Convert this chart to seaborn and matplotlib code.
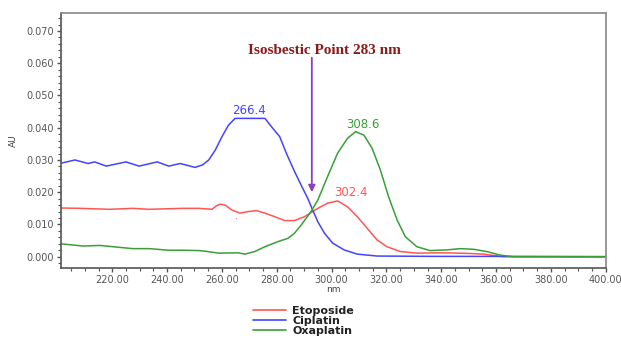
import matplotlib
matplotlib.use("Agg")
import matplotlib.pyplot as plt
import seaborn as sns
import pandas as pd
from matplotlib.ticker import MultipleLocator, FormatStrFormatter

# ---- data ----
cip_nm = [201.3, 206.4, 211.2, 213.6, 217.8, 225.0, 229.8, 236.4, 240.6, 244.8, 250.2, 253.0,
          255.2, 257.6, 260.0, 262.4, 264.8, 275.7, 278.1, 281.1, 283.5, 286.5, 288.9, 291.3,
          293.1, 295.0, 297.4, 300.4, 304.6, 309.4, 316.6, 338.3, 360.0, 400.0]
cip_au = [0.0290, 0.0300, 0.0289, 0.0294, 0.0281, 0.0294, 0.0281, 0.0294, 0.0281, 0.0289, 0.0277, 0.0285,
          0.0300, 0.0331, 0.0372, 0.0408, 0.0429, 0.0429, 0.0403, 0.0372, 0.0321, 0.0264, 0.0222, 0.0181,
          0.0145, 0.0108, 0.0073, 0.0042, 0.0021, 0.0008, 0.0002, 0.0001, 0.0001, 0.0]

eto_nm = [201.3, 208.2, 219.0, 227.5, 233.5, 245.5, 251.5, 256.4, 258.0, 259.4, 261.2, 263.6,
          266.6, 269.6, 272.6, 275.7, 279.3, 282.9, 286.5, 290.1, 293.1, 295.0, 298.5, 302.2,
          305.8, 309.4, 313.0, 316.6, 320.2, 325.1, 331.1, 338.3, 342.0, 350.5, 355.3, 362.5, 400.0]
eto_au = [0.0151, 0.0150, 0.0147, 0.0150, 0.0147, 0.0150, 0.0150, 0.0147, 0.0158, 0.0163, 0.0160, 0.0145,
          0.0135, 0.0140, 0.0143, 0.0135, 0.0124, 0.0112, 0.0112, 0.0124, 0.0140, 0.0150, 0.0166, 0.0173,
          0.0155, 0.0124, 0.0088, 0.0052, 0.0031, 0.0016, 0.0011, 0.0012, 0.0012, 0.0010, 0.0008, 0.0, 0.0]
eto_stray_nm = [265.2]
eto_stray_au = [0.0119]

oxa_nm = [201.3, 209.4, 215.4, 221.4, 227.5, 233.5, 240.6, 246.7, 251.5, 254.0, 258.8, 265.9,
          268.4, 272.0, 275.7, 280.5, 284.1, 286.5, 288.9, 292.5, 295.0, 298.5, 302.2, 305.8,
          308.8, 311.8, 314.8, 317.8, 320.8, 323.9, 326.9, 331.1, 335.9, 342.0, 346.9, 351.8,
          356.6, 361.4, 366.2, 400.0]
oxa_au = [0.0040, 0.0033, 0.0035, 0.0030, 0.0025, 0.0025, 0.0020, 0.0020, 0.0019, 0.0017, 0.0011, 0.0012,
          0.0008, 0.0016, 0.0031, 0.0047, 0.0057, 0.0073, 0.0098, 0.0140, 0.0176, 0.0248, 0.0321, 0.0367,
          0.0388, 0.0377, 0.0336, 0.0269, 0.0186, 0.0114, 0.0062, 0.0031, 0.0019, 0.0021, 0.0025, 0.0023,
          0.0016, 0.0005, 0.0, 0.0]

series_names = ["Etoposide", "Ciplatin", "Oxaplatin"]
series_colors = ["#ff5555", "#4444ff", "#3a9e3a"]

peak_labels = ["302.4", "266.4", "308.6"]
peak_label_pos = [(306.9, 0.0198), (270.0, 0.0455), (311.5, 0.0411)]

annot_text = "Isosbestic Point 283 nm"
annot_x = 292.8
annot_y_top = 0.0617
annot_y_tip = 0.0200
annot_text_pos = (297.5, 0.0641)

frames = []
for name, xs, ys in zip(series_names, [eto_nm, cip_nm, oxa_nm], [eto_au, cip_au, oxa_au]):
    frames.append(pd.DataFrame({"nm": xs, "AU": ys, "Drug": name}))
df = pd.concat(frames, ignore_index=True)

sns.set_style("white")
fig = plt.figure(figsize=(6.21, 3.38), dpi=100)
ax = fig.add_axes([0.0982, 0.2062, 0.8772, 0.7545])

sns.lineplot(data=df, x="nm", y="AU", hue="Drug", hue_order=series_names,
             palette=series_colors, linewidth=1.1, ax=ax, legend=False, sort=False,
             estimator=None)
ax.plot(eto_stray_nm, eto_stray_au, "o", color="#ff9090", markersize=1.0,
        markeredgewidth=0)

ax.set_xlim(201.3, 400)
ax.set_ylim(-0.0036, 0.0755)
ax.xaxis.set_major_locator(MultipleLocator(20))
ax.xaxis.set_minor_locator(MultipleLocator(5))
ax.yaxis.set_major_locator(MultipleLocator(0.01))
ax.yaxis.set_minor_locator(MultipleLocator(0.002))
ax.xaxis.set_major_formatter(FormatStrFormatter("%.2f"))
ax.yaxis.set_major_formatter(FormatStrFormatter("%.3f"))
ax.set_xticks([t for t in range(220, 401, 20)])

ax.tick_params(axis="both", which="major", direction="out", length=3, width=1,
               color="#555555", labelsize=7, labelcolor="#555555", pad=2)
ax.tick_params(axis="both", which="minor", direction="out", length=2, width=0.8,
               color="#555555")
ax.tick_params(axis="x", which="both", bottom=True)
ax.tick_params(axis="y", which="both", left=True)
for side in ["left", "bottom"]:
    ax.spines[side].set_color("#555555")
    ax.spines[side].set_linewidth(1.2)
for side in ["top", "right"]:
    ax.spines[side].set_color("#888888")
    ax.spines[side].set_linewidth(1.2)

ax.set_xlabel("nm", fontsize=6.5, color="#444444", labelpad=0)
ax.set_ylabel("AU", fontsize=6.5, color="#444444", labelpad=6)

for lab, (px, py), col in zip(peak_labels, peak_label_pos, series_colors):
    ax.text(px, py, lab, color=col, fontsize=8.5, ha="center", va="center")

ax.annotate("", xy=(annot_x, annot_y_tip), xytext=(annot_x, annot_y_top),
            arrowprops=dict(arrowstyle="-|>", color="#8a3fc4", lw=1.3,
                            mutation_scale=10, shrinkA=0, shrinkB=0))
ax.text(annot_text_pos[0], annot_text_pos[1], annot_text, color="#8b1a1a", fontsize=11,
        fontweight="bold", family="Liberation Serif", ha="center", va="center")

handles = [plt.Line2D([], [], color=c, lw=1.2) for c in series_colors]
leg = fig.legend(handles, series_names, loc="upper left",
                 bbox_to_anchor=(0.408, 1 - 306 / 338),
                 bbox_transform=fig.transFigure, frameon=False,
                 prop={"weight": "bold", "size": 8}, handlelength=2.9, handletextpad=0.6,
                 labelspacing=0.0, borderpad=0, borderaxespad=0)
for t in leg.get_texts():
    t.set_color("#222222")

fig.savefig("out.png", dpi=100)
